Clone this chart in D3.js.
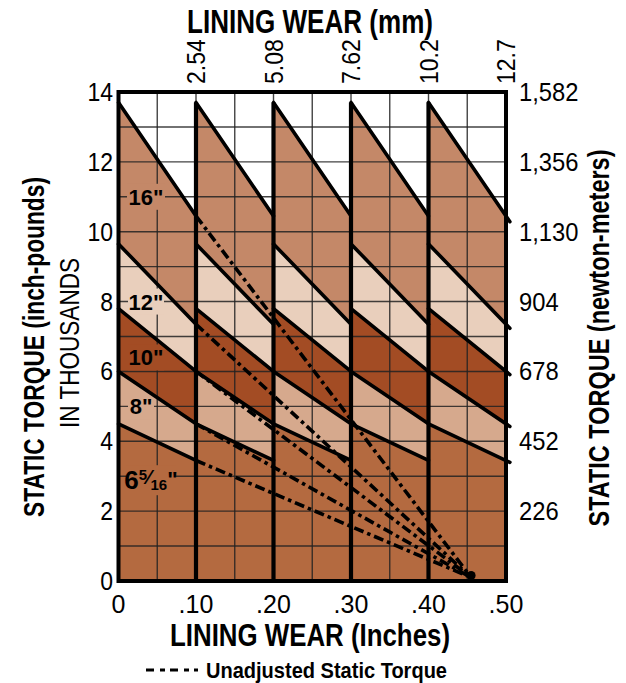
<!DOCTYPE html>
<html><head><meta charset="utf-8">
<script src="https://cdn.jsdelivr.net/npm/d3@7"></script>
<style>
html,body{margin:0;padding:0;background:#fff;}
svg text{font-family:'Liberation Sans',Arial,Helvetica,sans-serif;fill:#000;}
</style></head>
<body>
<svg id="chart" width="626" height="683"></svg>
<script>
// ---- data ----
const sizeLabels = ["16\"", "12\"", "10\"", "8\"", "6 5/16\""];
const startTorque = [13.7, 9.65, 7.8, 6.0, 4.5];   // thousands in-lb at adjustment
const endTorque   = [10.45, 7.35, 6.0, 4.5, 3.45];  // thousands in-lb after .10" wear
const labelTorque = [11, 8, 6.4, 5, 3];
const bandColors  = ["#C48868", "#E9CFBC", "#A34C24", "#D6A98D", "#B46A40"];
const adjustPoints = [0, 0.1, 0.2, 0.3, 0.4];
const period = 0.1;
const unadjustedEnd = {wear: 0.455, torque: 0.1};
const leftTicks = [0, 2, 4, 6, 8, 10, 12, 14];
const rightTickLabels = ["", "226", "452", "678", "904", "1,130", "1,356", "1,582"];
const bottomTicks = [0, 0.1, 0.2, 0.3, 0.4, 0.5];
const bottomTickLabels = ["0", ".10", ".20", ".30", ".40", ".50"];
const topTickLabels = ["2.54", "5.08", "7.62", "10.2", "12.7"];

function fit(sel, width) {
  sel.attr("textLength", width).attr("lengthAdjust", "spacingAndGlyphs");
}
function condense(sel, f) {
  sel.each(function () {
    const w = this.getComputedTextLength();
    this.setAttribute("textLength", w * f);
    this.setAttribute("lengthAdjust", "spacingAndGlyphs");
  });
}

// ---- scales ----
const svg = d3.select("#chart");
const x = d3.scaleLinear().domain([0, 0.5]).range([118.5, 506]);
const y = d3.scaleLinear().domain([0, 14]).range([581, 92]);

svg.append("rect").attr("x", x(0)).attr("y", y(14)).attr("width", x(0.5) - x(0)).attr("height", y(0) - y(14)).attr("fill", "#fff");

function sawPoints(i) {
  const pts = [];
  adjustPoints.forEach(a => {
    pts.push([a, startTorque[i]]);
    pts.push([a + period, endTorque[i]]);
  });
  return pts;
}

const area = d3.area().x(d => x(d[0])).y0(y(0)).y1(d => y(d[1])).curve(d3.curveLinear);
sizeLabels.forEach((s, i) => {
  svg.append("path").attr("d", area(sawPoints(i))).attr("fill", bandColors[i]);
});

// grid
const grid = svg.append("g").attr("stroke", "#222").attr("stroke-width", 1.4).attr("stroke-opacity", 0.85);
d3.range(1, 14).forEach(v => {
  grid.append("line").attr("x1", x(0)).attr("x2", x(0.5)).attr("y1", y(v)).attr("y2", y(v));
});
d3.range(1, 10).forEach(k => {
  const w = k * 0.05;
  grid.append("line").attr("x1", x(w)).attr("x2", x(w)).attr("y1", y(0)).attr("y2", y(14));
});

// label knockouts
const labelCx = [146, 146, 146, 141, 151];
const labelBoxes = [
  {w: 38, h: 26}, {w: 36, h: 26}, {w: 36, h: 26}, {w: 26, h: 26}, {w: 50, h: 30}
];
sizeLabels.forEach((s, i) => {
  svg.append("rect")
    .attr("x", labelCx[i] - labelBoxes[i].w / 2).attr("y", y(labelTorque[i]) - labelBoxes[i].h / 2 + (i === 4 ? 4 : 0))
    .attr("width", labelBoxes[i].w).attr("height", labelBoxes[i].h)
    .attr("fill", bandColors[i]);
});

// heavy verticals at adjustments
adjustPoints.slice(1).forEach(a => {
  svg.append("line").attr("x1", x(a)).attr("x2", x(a)).attr("y1", y(0)).attr("y2", y(startTorque[0]))
    .attr("stroke", "#000").attr("stroke-width", 4.2);
});

// unadjusted (dash-dot) lines
sizeLabels.forEach((s, i) => {
  svg.append("line")
    .attr("x1", x(period)).attr("y1", y(endTorque[i]))
    .attr("x2", x(unadjustedEnd.wear)).attr("y2", y(unadjustedEnd.torque))
    .attr("stroke", "#000").attr("stroke-width", 3.6)
    .attr("stroke-dasharray", "10,4,3.5,4");
});
svg.append("circle").attr("cx", x(unadjustedEnd.wear)).attr("cy", y(unadjustedEnd.torque) - 2).attr("r", 4.5).attr("fill", "#000");

// sawtooth solid lines
sizeLabels.forEach((s, i) => {
  adjustPoints.forEach((a, k) => {
    const last = k === adjustPoints.length - 1;
    const x2 = a + period + (last ? 0.005 : 0);
    const slope = (endTorque[i] - startTorque[i]) / period;
    const y2 = startTorque[i] + slope * (x2 - a);
    svg.append("line")
      .attr("x1", x(a)).attr("y1", y(startTorque[i]))
      .attr("x2", x(x2)).attr("y2", y(y2))
      .attr("stroke", "#000").attr("stroke-width", 3.6).attr("stroke-linecap", "round");
  });
});

// frame
svg.append("rect").attr("x", x(0)).attr("y", y(14)).attr("width", x(0.5) - x(0)).attr("height", y(0) - y(14))
  .attr("fill", "none").attr("stroke", "#000").attr("stroke-width", 4);

// size labels
sizeLabels.forEach((s, i) => {
  const t = svg.append("text").attr("x", labelCx[i]).attr("y", y(labelTorque[i]) + 8)
    .attr("text-anchor", "middle").attr("font-weight", "bold").attr("font-size", 22);
  if (i === 4) {
    t.attr("y", y(labelTorque[i]) + 13).attr("font-size", 26);
    t.append("tspan").text("6");
    t.append("tspan").attr("font-size", 15).attr("dy", -9).text("5");
    t.append("tspan").attr("font-size", 20).attr("dy", 4).text("⁄");
    t.append("tspan").attr("font-size", 15).attr("dy", 6).text("16");
    t.append("tspan").attr("font-size", 22).attr("dy", -3).text("\"");
  } else {
    t.text(s);
  }
});

// left axis ticks
svg.append("g").selectAll("text").data(leftTicks).join("text")
  .attr("x", 113).attr("y", d => y(d) + 9).attr("text-anchor", "end").attr("font-size", 25)
  .text(d => d).call(condense, 0.92);
// right axis labels
svg.append("g").selectAll("text").data(leftTicks).join("text")
  .attr("x", 519).attr("y", d => y(d) + 9).attr("font-size", 25)
  .text((d, i) => rightTickLabels[i]).call(condense, 0.95);
// bottom ticks
svg.append("g").selectAll("text").data(bottomTicks).join("text")
  .attr("x", d => x(d)).attr("y", 613).attr("text-anchor", "middle").attr("font-size", 25)
  .text((d, i) => bottomTickLabels[i]);
// top ticks (rotated)
svg.append("g").selectAll("text").data(bottomTicks.slice(1)).join("text")
  .attr("transform", d => `translate(${x(d) + 9},84) rotate(-90)`)
  .attr("font-size", 25).text((d, i) => topTickLabels[i]).call(condense, 0.92);

// titles
svg.append("text").attr("x", 310).attr("y", 33).attr("text-anchor", "middle")
  .attr("font-weight", "bold").attr("font-size", 33).text("LINING WEAR (mm)").call(fit, 246);
svg.append("text").attr("x", 310).attr("y", 646).attr("text-anchor", "middle")
  .attr("font-weight", "bold").attr("font-size", 32).text("LINING WEAR (Inches)").call(fit, 280);
svg.append("text").attr("transform", "translate(44,347) rotate(-90)").attr("text-anchor", "middle")
  .attr("font-weight", "bold").attr("font-size", 30).text("STATIC TORQUE (inch-pounds)").call(fit, 340);
svg.append("text").attr("transform", "translate(79,343) rotate(-90)").attr("text-anchor", "middle")
  .attr("font-size", 27).text("IN THOUSANDS").call(fit, 170);
svg.append("text").attr("transform", "translate(609,338) rotate(-90)").attr("text-anchor", "middle")
  .attr("font-weight", "bold").attr("font-size", 30).text("STATIC TORQUE (newton-meters)").call(fit, 377);

// legend
svg.append("line").attr("x1", 146).attr("x2", 198).attr("y1", 670).attr("y2", 670)
  .attr("stroke", "#000").attr("stroke-width", 3).attr("stroke-dasharray", "8,6,5,5");
svg.append("text").attr("x", 206).attr("y", 678).attr("font-weight", "bold").attr("font-size", 22)
  .text("Unadjusted Static Torque").call(fit, 241);
</script>
</body></html>
